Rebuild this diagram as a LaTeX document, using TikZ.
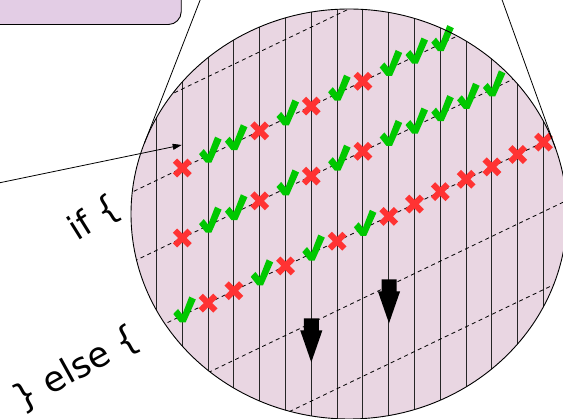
\documentclass[tikz,border=0pt]{standalone}
\usepackage{fontspec}
\setmainfont{DejaVu Sans}
\usetikzlibrary{arrows.meta}
\definecolor{wafer}{RGB}{233,214,226}
\definecolor{boxfill}{RGB}{227,205,229}
\definecolor{okgreen}{RGB}{0,200,0}
\definecolor{badred}{RGB}{255,51,51}
\tikzset{
  okmark/.pic={\fill[okgreen] (-1.8,0.5) -- (-8.5,-8) -- (-3.8,-13) -- (0.5,-7.5) -- (7.5,-25.5) -- (14,-22.5) -- (3.8,0.5) -- cycle;},
  badmark/.pic={\draw[badred, line width=6pt] (-7.3,-7.3) -- (7.3,7.3) (-7.3,7.3) -- (7.3,-7.3);},
  downblock/.pic={\fill[black] (-7.5,0) -- (7.5,0) -- (7.5,12) -- (11.1,12) -- (0,44) -- (-11.1,12) -- (-7.5,12) -- cycle;},
  vline/.style={draw=black!85, line width=0.9pt},
  dline/.style={draw=black, line width=0.8pt, dash pattern=on 4pt off 3.5pt},
  outline/.style={draw=black, line width=0.9pt},
  code/.style={inner sep=0pt},
}
\begin{document}
\begin{tikzpicture}[x=1pt,y=-1pt]
\useasboundingbox (0,0) rectangle (563,419);
% code box (only its lower right part is visible)
\node[outline, fill=boxfill, rounded corners=13pt, minimum width=240pt, minimum height=90pt, anchor=south east, inner sep=0pt] (codebox) at (181.7,25) {};
% wafer
\coordinate (wc) at (349,214);
\fill[wafer] (wc) ellipse [x radius=218, y radius=205];
\begin{scope}
  \clip (wc) ellipse [x radius=218, y radius=205];
  \foreach \j in {0,...,15} \draw[vline] ({156.5+25.8*\j},0) -- ({156.5+25.8*\j},419);
  \foreach \I in {89,168,238,315.5,385,463} \draw[dline] (100,{\I+39.5}) -- (600,{\I-200.5});
\end{scope}
% row 1
\foreach \k in {0,3,5,7} \pic at ({182.3+25.8*\k},{168-12.384*\k}) {badmark};
\foreach \k in {1,2,4,6,8,9,10} \pic at ({181.8+25.8*\k},{174.5-12.384*\k}) {okmark};
% row 2
\foreach \k in {0,3,5,7} \pic at ({182.3+25.8*\k},{238-12.384*\k}) {badmark};
\foreach \k in {1,2,4,6,8,9,10,11,12} \pic at ({181.8+25.8*\k},{244.5-12.384*\k}) {okmark};
% row 3
\foreach \k in {1,2,4,6,8,9,10,11,12,13,14} \pic at ({182.3+25.8*\k},{315.5-12.384*\k}) {badmark};
\foreach \k in {0,3,5,7} \pic at ({181.8+25.8*\k},{322-12.384*\k}) {okmark};
% block arrows
\pic at (311.3,318.3) {downblock};
\pic at (389,279.3) {downblock};
% wafer outline
\draw[outline] (wc) ellipse [x radius=218, y radius=205];
% zoom lines
\coordinate (apex) at (357,-403);
\coordinate (tl) at (144.3,143.5);
\coordinate (tr) at (555.5,148.2);
\draw[line width=0.8pt] (apex) -- (tl);
\draw[line width=0.8pt] (apex) -- (tr);
% pointer
\coordinate (src) at (0,182.7);
\coordinate (hit) at (181.7,145);
\draw[line width=0.8pt, -{Triangle[length=9pt,width=6pt]}] (src) -- (hit);
% texts
\node[code, rotate=32, font=\fontsize{34}{40}\selectfont] (iftext) at (95,219) {if \{};
\node[code, rotate=29, font=\fontsize{35}{42}\selectfont] (elsetext) at (77,369) {\} else \{};
\end{tikzpicture}
\end{document}
